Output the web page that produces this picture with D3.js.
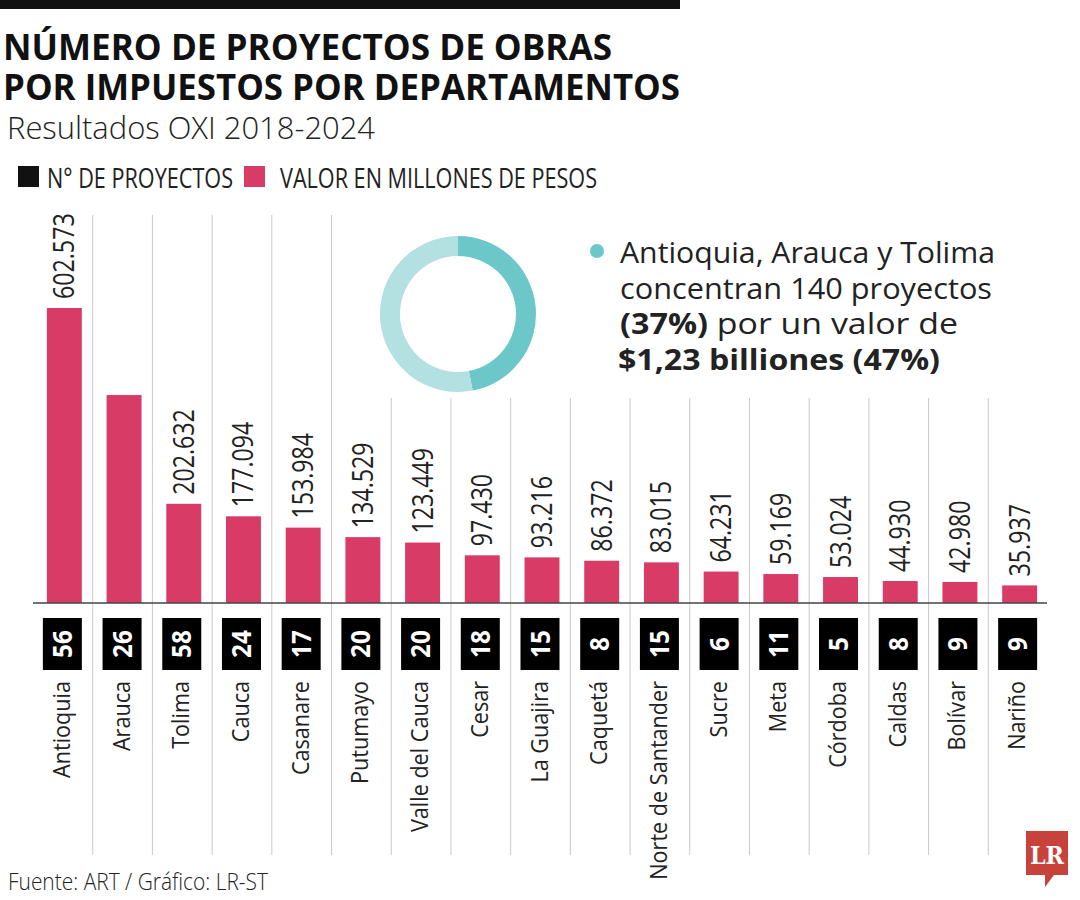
<!DOCTYPE html>
<html><head><meta charset="utf-8">
<script src="https://cdn.jsdelivr.net/npm/d3@7"></script>
<style>body{margin:0;background:#fff}svg{display:block}</style>
</head><body>
<svg id="c" width="1080" height="900"></svg>
<script>
// ---------- DATA ----------
const departamentos = ["Antioquia","Arauca","Tolima","Cauca","Casanare","Putumayo","Valle del Cauca","Cesar","La Guajira","Caquetá","Norte de Santander","Sucre","Meta","Córdoba","Caldas","Bolívar","Nariño"];
const proyectos = [56,26,58,24,17,20,20,18,15,8,15,6,11,5,8,9,9];
// valor en millones de pesos (Arauca estimado: no lleva etiqueta en el original)
const valores = [602573,424795,202632,177094,153984,134529,123449,97430,93216,86372,83015,64231,59169,53024,44930,42980,35937];
const sinEtiqueta = ["Arauca"];
const donutPct = [47, 53];
const titulo = ["NÚMERO DE PROYECTOS DE OBRAS","POR IMPUESTOS POR DEPARTAMENTOS"];
const subtitulo = "Resultados OXI 2018-2024";
const leyenda = ["N° DE PROYECTOS","VALOR EN MILLONES DE PESOS"];
const fuente = "Fuente: ART / Gráfico: LR-ST";

// ---------- STYLE ----------
const PINK = "#d93b67", TEAL = "#6cc8c8", TEAL_L = "#b3e0e1", GRID = "#c9c9c9";
const FONT = "'Open Sans', 'Noto Sans', sans-serif";
const svg = d3.select("#c");
const loc = d3.formatLocale({decimal: ",", thousands: ".", grouping: [3], currency: ["$",""]});
const fmt = loc.format(",d");

const data = departamentos.map((d,i)=>({dep:d, n:proyectos[i], v:valores[i]}));

const x = d3.scaleBand().domain(departamentos).range([33, 1048]).paddingInner(0.415).paddingOuter(0.2075);
const y = d3.scaleLinear().domain([0, 602573]).range([603, 308]);
const step = x.step();

// top bar
svg.append("rect").attr("x",0).attr("y",0).attr("width",680).attr("height",9).attr("fill","#111");

// titles (one text, two lines)
const tt = svg.append("text").attr("font-family",FONT).attr("font-weight",700).attr("font-size",36).attr("fill","#111");
tt.selectAll("tspan").data(titulo).join("tspan")
  .attr("x",3).attr("y",(d,i)=>60+i*40)
  .attr("textLength",(d,i)=>i?677:609).attr("lengthAdjust","spacingAndGlyphs").text(d=>d);
svg.append("text").attr("x",7).attr("y",139).attr("font-family",FONT).attr("font-weight",300)
  .attr("font-size",31).attr("fill","#222").attr("textLength",368).attr("lengthAdjust","spacingAndGlyphs").text(subtitulo);

// legend
const lg = [{c:"#111",x:18,tx:47,w:186},{c:PINK,x:244,tx:280,w:317}];
lg.forEach((o,i)=>{
  svg.append("rect").attr("x",o.x).attr("y",166).attr("width",21).attr("height",21).attr("fill",o.c);
  svg.append("text").attr("x",o.tx).attr("y",188).attr("font-family",FONT).attr("font-size",28).attr("fill","#222")
    .attr("textLength",o.w).attr("lengthAdjust","spacingAndGlyphs").text(leyenda[i]);
});

// vertical separators
const seps = departamentos.slice(1);
svg.selectAll("line.sep").data(seps).join("line").attr("class","sep")
  .attr("x1",d=>x(d)-(step-x.bandwidth())/2).attr("x2",d=>x(d)-(step-x.bandwidth())/2)
  .attr("y1",215).attr("y2",855).attr("stroke",GRID).attr("stroke-width",1);

// white panel behind the donut / annotation
svg.append("rect").attr("x",372).attr("y",212).attr("width",690).attr("height",186).attr("fill","#fff");

// bars
svg.selectAll("rect.bar").data(data).join("rect").attr("class","bar")
  .attr("x",d=>x(d.dep)+1.5).attr("width",x.bandwidth()).attr("y",d=>y(d.v)).attr("height",d=>y(0)-y(d.v)).attr("fill",PINK);

// baseline
svg.append("line").attr("x1",33).attr("x2",1047).attr("y1",y(0)).attr("y2",y(0)).attr("stroke","#444").attr("stroke-width",1.5);

// value labels
svg.selectAll("text.val").data(data.filter(d=>!sinEtiqueta.includes(d.dep))).join("text").attr("class","val")
  .attr("transform",d=>`translate(${x(d.dep)+1.5+x.bandwidth()/2+10},${y(d.v)-9}) rotate(-90) scale(0.8,1)`)
  .attr("font-family",FONT).attr("font-size",29).attr("fill","#222").text(d=>fmt(d.v));

// count boxes
const cx = d=>x(d.dep)+x.bandwidth()/2;
svg.selectAll("rect.box").data(data).join("rect").attr("class","box")
  .attr("x",d=>cx(d)-20).attr("y",618).attr("width",39).attr("height",52).attr("fill","#000");
svg.selectAll("text.num").data(data).join("text").attr("class","num")
  .attr("transform",d=>`translate(${cx(d)+9},644) rotate(-90) scale(0.9,1)`)
  .attr("text-anchor","middle").attr("font-family",FONT).attr("font-weight",700).attr("font-size",27).attr("fill","#fff").text(d=>d.n);

// department labels
svg.selectAll("text.dep").data(data).join("text").attr("class","dep")
  .attr("transform",d=>`translate(${cx(d)+7},681) rotate(-90) scale(0.9,1)`)
  .attr("text-anchor","end").attr("font-family",FONT).attr("font-size",24).attr("fill","#222").text(d=>d.dep);

// donut
const arc = d3.arc().innerRadius(58).outerRadius(78);
const pie = d3.pie().sort(null)(donutPct);
svg.append("g").attr("transform","translate(458,314)").selectAll("path").data(pie).join("path")
  .attr("d",arc).attr("fill",(d,i)=>i?TEAL_L:TEAL);

// annotation (one text block, four lines)
svg.append("circle").attr("cx",597).attr("cy",251).attr("r",7).attr("fill",TEAL);
const ann = svg.append("text").attr("font-family",FONT).attr("font-size",29).attr("fill","#222");
ann.append("tspan").attr("x",620).attr("y",263).attr("textLength",375).attr("lengthAdjust","spacingAndGlyphs").text("Antioquia, Arauca y Tolima");
ann.append("tspan").attr("x",620).attr("y",299).attr("textLength",372).attr("lengthAdjust","spacingAndGlyphs").text("concentran 140 proyectos");
ann.append("tspan").attr("x",620).attr("y",334).attr("font-weight",700).attr("textLength",88).attr("lengthAdjust","spacingAndGlyphs").text("(37%)");
ann.append("tspan").attr("textLength",250).attr("lengthAdjust","spacingAndGlyphs").text(" por un valor de");
ann.append("tspan").attr("x",618).attr("y",370).attr("font-weight",700).attr("textLength",322).attr("lengthAdjust","spacingAndGlyphs").text("$1,23 billiones (47%)");

// footer
svg.append("text").attr("x",8).attr("y",890).attr("font-family",FONT).attr("font-weight",300).attr("font-size",23).attr("fill","#222")
  .attr("textLength",260).attr("lengthAdjust","spacingAndGlyphs").text(fuente);

// LR logo
const lr = svg.append("g");
lr.append("path").attr("d","M1026,831 h42 v44 h-14 l-9,12 v-12 h-19 z").attr("fill","#c8423c");
lr.append("text").attr("x",1047).attr("y",864).attr("text-anchor","middle").attr("font-family","'DejaVu Serif', serif")
  .attr("font-weight",700).attr("font-size",24).attr("fill","#fff").attr("textLength",34).attr("lengthAdjust","spacingAndGlyphs").text("LR");
</script>
</body></html>
